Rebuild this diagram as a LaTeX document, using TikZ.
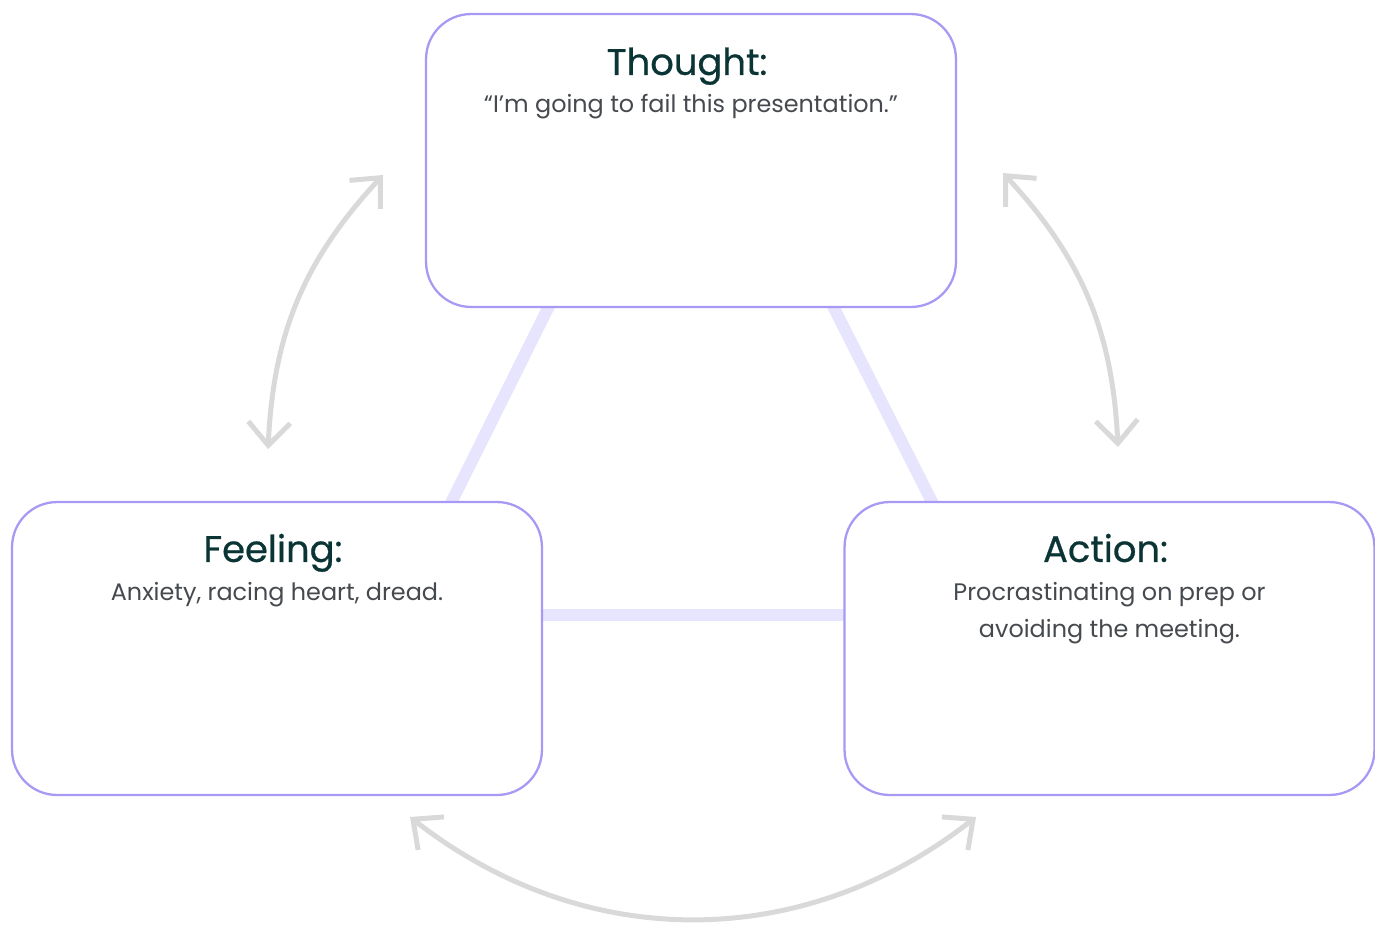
\documentclass[tikz,border=0pt]{standalone}
\usepackage{fontspec}
\setmainfont{Poppins}
\newfontfamily\headfont[FakeBold=0.6]{Poppins}
\usetikzlibrary{arrows.meta,calc,positioning}
\pgfdeclarelayer{background}
\pgfsetlayers{background,main}
\definecolor{boxline}{HTML}{A899F4}
\definecolor{linkcol}{HTML}{E7E4FD}
\definecolor{arrowgray}{HTML}{D9D9D9}
\definecolor{titlecol}{HTML}{0B3535}
\definecolor{bodycol}{HTML}{464A4F}

\begin{document}
\begin{tikzpicture}[x=0.02cm,y=-0.02cm,
		box/.style={draw=boxline, line width=1.3pt, rounded corners=0.9cm, fill=white,
			minimum width=10.6cm, minimum height=5.86cm, inner sep=0pt},
		head/.style={text=titlecol, font=\headfont\fontsize{21}{25}\selectfont, inner sep=0pt, anchor=base},
		txt/.style={text=bodycol, font=\fontsize{13.6}{21}\selectfont, inner sep=0pt, align=center, anchor=base},
		link/.style={draw=linkcol, line width=0.24cm, shorten <=-6pt, shorten >=-6pt},
		cyclearrow/.style={draw=arrowgray, line width=0.1cm,
			{Straight Barb[length=0.46cm,width=0.84cm]}-{Straight Barb[length=0.46cm,width=0.84cm]}}]
	\useasboundingbox (0,0) rectangle (1375,924);

	\node[box] (thought) at (691,160.5) {};
	\node[box] (feeling) at (277,648.5) {};
	\node[box] (action) at (1109.5,648.5) {};

	\node[head] (thoughtHead) at ($(thought.north)+(-4,62)$) {Thought:};
	\node[txt] (thoughtTxt) at ($(thought.north)+(0,99.5)$) {“I'm going to fail this presentation.”};
	\node[head] (feelingHead) at ($(feeling.north)+(-4,61)$) {Feeling:};
	\node[txt] (feelingTxt) at ($(feeling.north)+(0,99.5)$) {Anxiety, racing heart, dread.};
	\node[head] (actionHead) at ($(action.north)+(-4,61)$) {Action:};
	% base of a two-line node sits on its last line
	\node[txt] (actionTxt) at ($(action.north)+(0,136.5)$) {Procrastinating on prep or\\avoiding the meeting.};

	\begin{pgfonlayer}{background}
		\draw[link] ($(thought.south)+(-143,0)$) -- ($(feeling.north)+(175,0)$);
		\draw[link] ($(thought.south)+(143,0)$) -- ($(action.north)+(-178,0)$);
		\draw[link] ($(feeling.east)+(0,-33.5)$) -- ($(action.west)+(0,-33.5)$);
	\end{pgfonlayer}

	\coordinate (ftLow) at (268,449);
	\coordinate (ftHigh) at (383,175);
	\coordinate (taHigh) at (1003,173);
	\coordinate (taLow) at (1118,447);
	\coordinate (faLeft) at (410,817);
	\coordinate (faRight) at (976,817);

	\draw[cyclearrow] (ftLow) to[bend left=20] (ftHigh);
	\draw[cyclearrow] (taHigh) to[bend left=20] (taLow);
	\draw[cyclearrow] (faLeft) to[bend right=38] (faRight);
\end{tikzpicture}
\end{document}
